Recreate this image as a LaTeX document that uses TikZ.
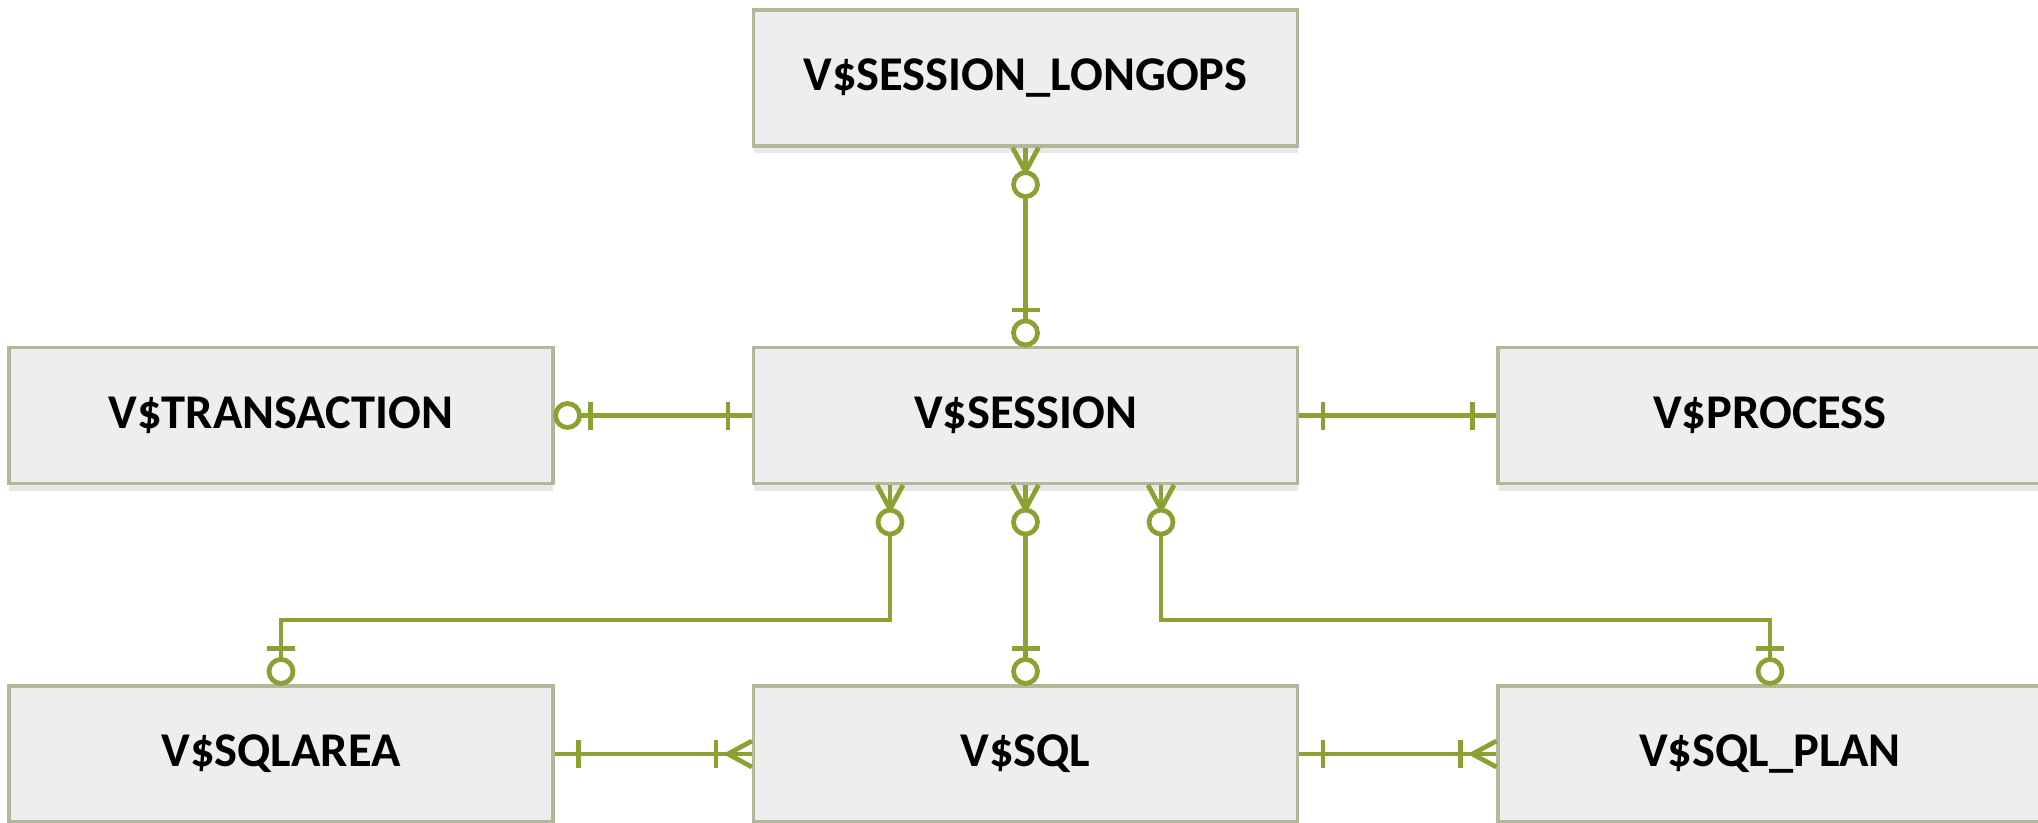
\documentclass[tikz,border=0pt]{standalone}
\usepackage{fontspec}
\setmainfont{Carlito}
\usepackage{tikz}
\usetikzlibrary{positioning,calc,shadows}

\definecolor{erGreen}{RGB}{138,162,50}
\definecolor{boxEdge}{RGB}{180,184,154}
\definecolor{boxFill}{RGB}{238,238,238}

\tikzset{
    erline/.style={draw=erGreen, line width=1.35pt},
    % cardinality ends, local x axis points away from the table
    pics/one/.style={code={\draw[erline] (0.24,-0.14) -- (0.24,0.14);}},
    pics/zeroone/.style={code={
        \draw[erline] (0.36,-0.14) -- (0.36,0.14);
        \draw[erline, fill=white] (0.13,0) circle (0.12);}},
    pics/zeromany/.style={code={
        \draw[erline] (0,0.13) -- (0.24,0) -- (0,-0.13);
        \draw[erline, fill=white] (0.37,0) circle (0.12);}},
    pics/onemany/.style={code={
        \draw[erline] (0,0.13) -- (0.24,0) -- (0,-0.13);
        \draw[erline] (0.36,-0.14) -- (0.36,0.14);}},
}

\begin{document}
\begin{tikzpicture}[
    tbl/.style={draw=boxEdge, line width=0.9pt, fill=boxFill, minimum width=5.44cm, minimum height=1.36cm,
        font=\fontsize{13.8}{16}\selectfont\bfseries, text=black,
        drop shadow={shadow xshift=0pt, shadow yshift=-0.07cm, opacity=0.18}},
]
\clip (0,0) rectangle (20.38,-8.23);

% top row
\node[tbl] (lng) at (10.255,-0.78) {V\$SESSION\_LONGOPS};

% middle row
\node[tbl] (trx) at (2.81,-4.155) {V\$TRANSACTION};
\node[tbl] (ses) at (10.255,-4.155) {V\$SESSION};
\node[tbl] (prc) at (17.70,-4.155) {V\$PROCESS};

% bottom row
\node[tbl] (area) at (2.81,-7.54) {V\$SQLAREA};
\node[tbl] (sql) at (10.255,-7.54) {V\$SQL};
\node[tbl] (plan) at (17.70,-7.54) {V\$SQL\_PLAN};

% session links
\draw[erline] (lng.south) -- (ses.north);
\pic[rotate=-90] at (lng.south) {zeromany};
\pic[rotate=90] at (ses.north) {zeroone};

\draw[erline] (trx.east) -- (ses.west);
\pic at (trx.east) {zeroone};
\pic[rotate=180] at (ses.west) {one};

\draw[erline] (ses.east) -- (prc.west);
\pic at (ses.east) {one};
\pic[rotate=180] at (prc.west) {one};

% down to the sql tables
\draw[erline] ([xshift=-1.355cm]ses.south) coordinate (s1) -- ++(0,-1.35) -| (area.north);
\pic[rotate=-90] at (s1) {zeromany};
\pic[rotate=90] at (area.north) {zeroone};

\draw[erline] (ses.south) -- (sql.north);
\pic[rotate=-90] at (ses.south) {zeromany};
\pic[rotate=90] at (sql.north) {zeroone};

\draw[erline] ([xshift=1.355cm]ses.south) coordinate (s3) -- ++(0,-1.35) -| (plan.north);
\pic[rotate=-90] at (s3) {zeromany};
\pic[rotate=90] at (plan.north) {zeroone};

% bottom row links
\draw[erline] (area.east) -- (sql.west);
\pic at (area.east) {one};
\pic[rotate=180] at (sql.west) {onemany};

\draw[erline] (sql.east) -- (plan.west);
\pic at (sql.east) {one};
\pic[rotate=180] at (plan.west) {onemany};
\end{tikzpicture}
\end{document}
